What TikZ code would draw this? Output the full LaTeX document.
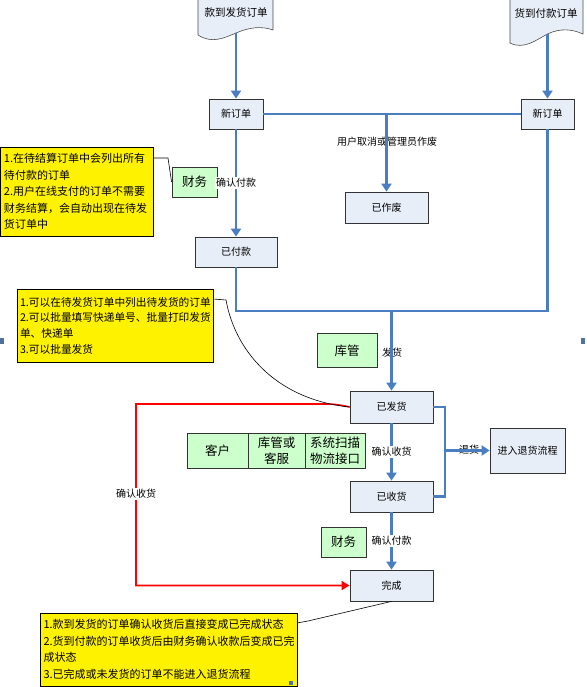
\documentclass[tikz,border=0pt]{standalone}
\usepackage{fontspec}
\setmainfont{Noto Sans CJK SC}
\usetikzlibrary{arrows.meta}
\definecolor{flowblue}{RGB}{74,126,193}
\definecolor{statefill}{RGB}{232,238,248}
\definecolor{rolegreen}{RGB}{204,255,204}
\definecolor{handleblue}{RGB}{79,113,160}
\begin{document}
\begin{tikzpicture}[x=1pt,y=-1pt,
  state/.style={draw=black!80,fill=statefill,line width=0.8pt,inner sep=0pt,font=\fontsize{10}{12}\selectfont},
  role/.style={draw=black!80,fill=rolegreen,line width=0.8pt,inner sep=0pt,align=center,font=\fontsize{12.5}{16}\selectfont},
  note/.style={draw=black,fill=yellow,line width=0.8pt,inner sep=0pt,align=left},
  lab/.style={inner sep=1pt,font=\fontsize{10}{12}\selectfont},
  docshape/.style={draw=black!70,fill=statefill,line width=0.6pt},
  bline/.style={draw=flowblue,line width=2.5pt},
  flow/.style={bline,-{Triangle[length=8pt,width=10pt]}},
  redflow/.style={draw=red,line width=1.6pt,-{Triangle[length=8pt,width=9pt]}},
  callout/.style={draw=black,line width=0.6pt}]
\useasboundingbox (0,0) rectangle (586,687);

% source documents
\filldraw[docshape] (198,-2) -- (198,35) .. controls (212,44) and (224,38) .. (236,33) .. controls (250,27) and (262,26) .. (273,30) -- (273,-2);
\node[lab,font=\fontsize{10.5}{12}\selectfont] (doc1) at (236,13) {款到发货订单};
\coordinate (doc1b) at (236,33);
\filldraw[docshape] (510,-2) -- (510,43) .. controls (524,50) and (536,40) .. (547.5,34) .. controls (560,28) and (572,29) .. (583,34) -- (583,-2);
\node[lab,font=\fontsize{10.5}{12}\selectfont] (doc2) at (546,13) {货到付款订单};
\coordinate (doc2b) at (547.5,34);

% states
\node[state,minimum width=54pt,minimum height=30pt] (new1) at (236,114) {新订单};
\node[state,minimum width=53pt,minimum height=30pt] (new2) at (547.5,114) {新订单};
\node[state,minimum width=83pt,minimum height=31pt] (cancel) at (386.5,207.5) {已作废};
\node[state,minimum width=82pt,minimum height=30pt] (paid) at (236,252) {已付款};
\node[state,minimum width=83pt,minimum height=32pt] (shipped) at (391.5,407) {已发货};
\node[state,minimum width=83pt,minimum height=31pt] (received) at (391.5,496.5) {已收货};
\node[state,minimum width=83pt,minimum height=31pt] (done) at (391.5,585.5) {完成};
\node[state,minimum width=75pt,minimum height=45pt] (returns) at (527.5,450.5) {进入退货流程};

% roles
\node[role,minimum width=45pt,minimum height=30pt] (fin1) at (194.5,182) {财务};
\node[role,minimum width=60pt,minimum height=34pt] (store) at (347,350.5) {库管};
\node[role,minimum width=61pt,minimum height=35pt] (client) at (217.5,450.5) {客户};
\node[role,minimum width=57pt,minimum height=35pt] (staff) at (276.5,450.5) {库管或\\客服};
\node[role,minimum width=60pt,minimum height=35pt] (scan) at (335,450.5) {系统扫描\\物流接口};
\node[role,minimum width=45pt,minimum height=30pt] (fin2) at (343.5,542) {财务};

% notes
\node[note,minimum width=153pt,minimum height=89pt,text width=145pt,font=\fontsize{11}{16.5}\selectfont] (note1) at (76.5,191.5)
  {1.在待结算订单中会列出所有\\待付款的订单\\2.用户在线支付的订单不需要\\财务结算，会自动出现在待发\\货订单中};
\node[note,minimum width=196pt,minimum height=73pt,text width=190pt,font=\fontsize{10.7}{15.7}\selectfont] (note2) at (115,325.5)
  {1.可以在待发货订单中列出待发货的订单\\2.可以批量填写快递单号、批量打印发货\\单、快递单\\3.可以批量发货};
\node[note,minimum width=257pt,minimum height=73pt,text width=250pt,font=\fontsize{11}{16.5}\selectfont] (note3) at (168.5,649.5)
  {1.款到发货的订单确认收货后直接变成已完成状态\\2.货到付款的订单收货后由财务确认收款后变成已完\\成状态\\3.已完成或未发货的订单不能进入退货流程};

% blue flow
\draw[flow] (doc1b) -- (new1);
\draw[flow] (doc2b) -- (new2);
\draw[bline] (new1) -- (new2);
\node[lab] (cancellab) at (387,142) {用户取消或管理员作废};
\coordinate (split) at (386.5,114);
\draw[flow] (split) -- (cancel);
\draw[flow] (new1) -- node[lab,fill=white] (paylab) {确认付款} (paid);
\coordinate (join) at (391.5,311);
\draw[bline] (paid) |- (join) -| (new2);
\node[lab] (shiplab) at (392,353) {发货};
\draw[flow] (join) -- (shipped);
\draw[flow] (shipped) -- node[lab,fill=white] (recvlab) {确认收货} (received);
\draw[flow] (received) -- node[lab,fill=white] (finlab) {确认付款} (done);
\coordinate (ret) at (445,450.5);
\draw[bline] (shipped.east) -| (ret) |- (received.east);
\node[lab] (retlab) at (469,450) {退货};
\draw[flow] (ret) -- (returns);

% red flow
\coordinate (redtl) at (136,404);
\coordinate (redbl) at (136,585.5);
\draw[redflow] (shipped.west) .. controls (340,405) and (335,404) .. (325,404) -- (redtl) -- (redbl) -- (done.west);
\node[lab,fill=white] (redlab) at (136,494) {确认收货};

% callouts
\coordinate (n1c) at (153,158);
\draw[callout] (n1c) -- (168,158) -- (fin1.west);
\coordinate (n2c) at (213,299);
\draw[callout] (n2c) -- (226,300) .. controls (236,355) and (280,400) .. (shipped.west);
\coordinate (n3c) at (297,623);
\draw[callout] (n3c) -- (308,621) -- (done.south);

% handles
\fill[handleblue] (0,338) rectangle (4,344);
\fill[handleblue] (581,338) rectangle (585,344);
\fill[handleblue] (289,681) rectangle (293,685);
\end{tikzpicture}
\end{document}
